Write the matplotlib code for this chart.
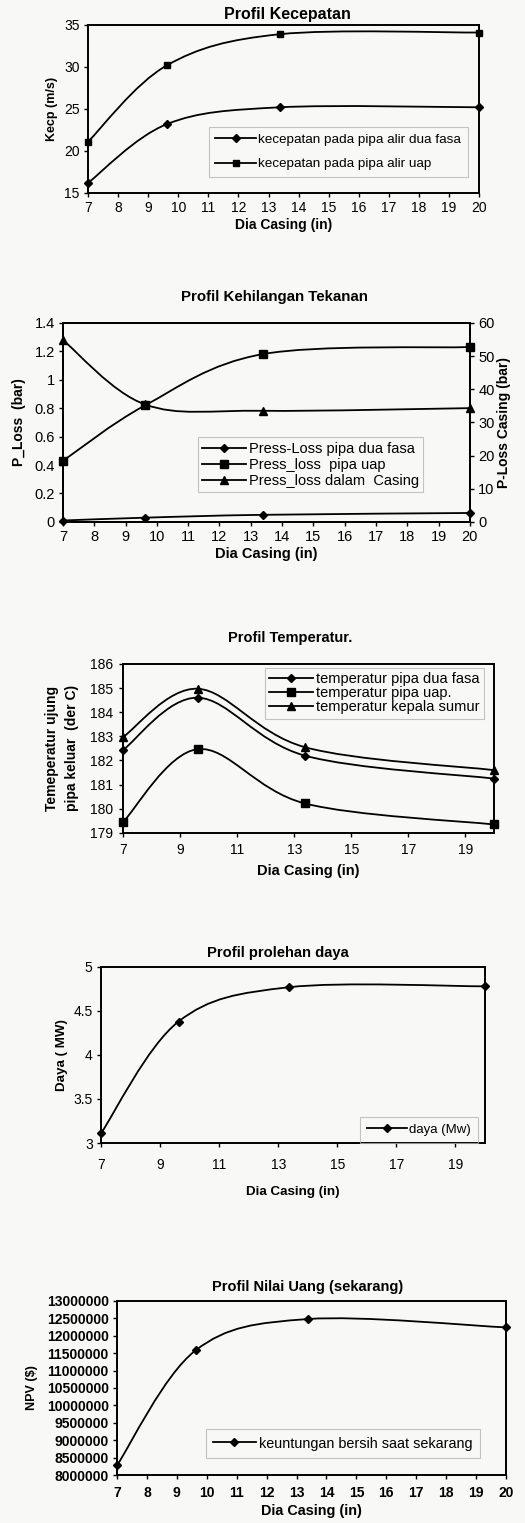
import matplotlib
matplotlib.use("Agg")
import matplotlib.pyplot as plt
import numpy as np
from matplotlib.path import Path
from matplotlib.patches import PathPatch
from matplotlib.lines import Line2D
from matplotlib.ticker import FuncFormatter

plt.rcParams["font.family"] = ["Liberation Sans", "DejaVu Sans"]

# casing diameters (in): 7, 9 5/8, 13 3/8, 20
dia_casing = [7.0, 9.625, 13.375, 20.0]

# Profil Kecepatan (m/s)
kecp_dua_fasa = [16.2, 23.2, 25.2, 25.2]
kecp_uap = [21.1, 30.2, 33.9, 34.1]

# Profil Kehilangan Tekanan
ploss_dua_fasa = [0.01, 0.03, 0.05, 0.063]   # bar, left axis
ploss_uap = [0.43, 0.82, 1.18, 1.23]         # bar, left axis
ploss_casing = [54.8, 35.4, 33.5, 34.3]      # bar, right axis

# Profil Temperatur (der C)
temp_dua_fasa = [182.43, 184.6, 182.2, 181.25]
temp_uap = [179.45, 182.47, 180.22, 179.35]
temp_kepala = [182.97, 184.97, 182.55, 181.6]

# Profil prolehan daya (MW)
daya = [3.11, 4.38, 4.77, 4.78]

# Profil Nilai Uang (sekarang), NPV ($)
npv = [8280000, 11580000, 12480000, 12240000]

LW = 1.3


def smooth_line(ax, x, y, lw=LW):
    """Excel-like smoothed line drawn as cubic Bezier segments."""
    pts = np.column_stack([x, y]).astype(float)
    n = len(pts)
    verts = [tuple(pts[0])]
    codes = [Path.MOVETO]
    for i in range(n - 1):
        p0 = pts[i - 1] if i > 0 else pts[i]
        p1 = pts[i]
        p2 = pts[i + 1]
        p3 = pts[i + 2] if i + 2 < n else pts[i + 1]
        c1 = p1 + (p2 - p0) / 6.0
        c2 = p2 - (p3 - p1) / 6.0
        verts += [tuple(c1), tuple(c2), tuple(p2)]
        codes += [Path.CURVE4] * 3
    ax.add_patch(PathPatch(Path(verts, codes), fill=False, ec="black", lw=lw, zorder=3))


def series(ax, x, y, marker, ms):
    smooth_line(ax, x, y)
    ax.plot(x, y, ls="none", marker=marker, ms=ms, color="black", zorder=4, clip_on=False)


def handle(marker, ms):
    return Line2D([], [], color="black", lw=LW, marker=marker, ms=ms)


def style_axes(ax, fs=10, pad=3):
    for s in ax.spines.values():
        s.set_linewidth(1.4)
        s.set_color("black")
    ax.tick_params(direction="out", length=3, width=1, labelsize=fs, colors="black", pad=pad)
    ax.set_facecolor("none")


def legend(ax, handles, labels, anchor, fs, **kw):
    kw.setdefault("borderpad", 0.5)
    lg = ax.legend(handles, labels, loc="center", bbox_to_anchor=anchor, fontsize=fs,
                   frameon=True, fancybox=False, handlelength=3.0, handletextpad=0.2, **kw)
    lg.get_frame().set_edgecolor("#b5b5b5")
    lg.get_frame().set_linewidth(0.8)
    lg.get_frame().set_facecolor("none")
    return lg


fig = plt.figure(figsize=(5.25, 15.23), dpi=100)
fig.patch.set_facecolor("#f8f8f6")
gfmt = FuncFormatter(lambda v, p: "{:g}".format(v))

# ---- 1. Profil Kecepatan
ax1 = fig.add_axes([0.1676, 0.8733, 0.745, 0.1103])
series(ax1, dia_casing, kecp_dua_fasa, "D", 4)
series(ax1, dia_casing, kecp_uap, "s", 5)
ax1.set_xlim(7, 20)
ax1.set_ylim(15, 35)
ax1.set_xticks(range(7, 21))
ax1.set_yticks(range(15, 36, 5))
style_axes(ax1, 10)
ax1.set_xlabel("Dia Casing (in)", fontsize=10, fontweight="bold", labelpad=2)
ax1.set_ylabel("Kecp (m/s)", fontsize=9, fontweight="bold", labelpad=4)
legend(ax1, [handle("D", 4), handle("s", 5)],
       ["kecepatan pada pipa alir dua fasa", "kecepatan pada pipa alir uap"],
       (0.30, 0.065, 0.68, 0.36), 9.7, labelspacing=0.9)
fig.text(0.548, 1 - 15 / 1523, "Profil Kecepatan", ha="center", va="center",
         fontsize=11.5, fontweight="bold")

# ---- 2. Profil Kehilangan Tekanan
ax2 = fig.add_axes([0.12, 0.6573, 0.775, 0.1307])
ax2r = ax2.twinx()
series(ax2, dia_casing, ploss_dua_fasa, "D", 4)
series(ax2, dia_casing, ploss_uap, "s", 5.5)
series(ax2r, dia_casing, ploss_casing, "^", 6)
ax2.set_xlim(7, 20)
ax2.set_ylim(0, 1.4)
ax2r.set_ylim(0, 60)
ax2.set_xticks(range(7, 21))
ax2.set_yticks(np.arange(0, 1.41, 0.2))
ax2r.set_yticks(range(0, 61, 10))
ax2.yaxis.set_major_formatter(gfmt)
style_axes(ax2, 10.5)
style_axes(ax2r, 10.5)
ax2.set_xlabel("Dia Casing (in)", fontsize=10.5, fontweight="bold", labelpad=2)
ax2.set_ylabel("P_Loss  (bar)", fontsize=10, fontweight="bold", labelpad=6)
ax2r.set_ylabel("P-Loss Casing (bar)", fontsize=10, fontweight="bold", labelpad=2)
legend(ax2, [handle("D", 4), handle("s", 5.5), handle("^", 6)],
       ["Press-Loss pipa dua fasa", "Press_loss  pipa uap", "Press_loss dalam  Casing"],
       (0.246, 0.126, 0.724, 0.321), 10.5, labelspacing=0.15, borderpad=0.3)
fig.text(0.522, 1 - 297 / 1523, "Profil Kehilangan Tekanan", ha="center", va="center",
         fontsize=10.8, fontweight="bold")

# ---- 3. Profil Temperatur
ax3 = fig.add_axes([0.2343, 0.4531, 0.7067, 0.111])
series(ax3, dia_casing, temp_dua_fasa, "D", 4.5)
series(ax3, dia_casing, temp_uap, "s", 6)
series(ax3, dia_casing, temp_kepala, "^", 6)
ax3.set_xlim(7, 20)
ax3.set_ylim(179, 186)
ax3.set_xticks(range(7, 20, 2))
ax3.set_yticks(range(179, 187))
style_axes(ax3, 10, pad=4)
ax3.set_xlabel("Dia Casing (in)", fontsize=10.5, fontweight="bold", labelpad=5)
ax3.set_ylabel("Temeperatur ujung\npipa keluar  (der C)", fontsize=10, fontweight="bold",
               labelpad=8, linespacing=1.5)
legend(ax3, [handle("D", 4.5), handle("s", 6), handle("^", 6)],
       ["temperatur pipa dua fasa", "temperatur pipa uap.", "temperatur kepala sumur"],
       (0.364, 0.675, 0.626, 0.301), 10.5, labelspacing=0.0, borderaxespad=0, borderpad=0.3)
fig.text(0.553, 1 - 638 / 1523, "Profil Temperatur.", ha="center", va="center",
         fontsize=10.5, fontweight="bold")

# ---- 4. Profil prolehan daya
ax4 = fig.add_axes([0.1924, 0.2495, 0.7314, 0.1156])
series(ax4, dia_casing, daya, "D", 4.5)
ax4.set_xlim(7, 20)
ax4.set_ylim(3, 5)
ax4.set_xticks(range(7, 20, 2))
ax4.set_yticks(np.arange(3, 5.01, 0.5))
ax4.yaxis.set_major_formatter(gfmt)
style_axes(ax4, 10)
ax4.tick_params(axis="x", pad=8)
ax4.set_xlabel("Dia Casing (in)", fontsize=9.6, fontweight="bold", labelpad=10)
ax4.set_ylabel("Daya ( MW)", fontsize=9.6, fontweight="bold", labelpad=4)
legend(ax4, [handle("D", 4.5)], ["daya (Mw)"], (0.6875, -0.02, 0.2815, 0.19), 9.5)
fig.text(0.53, 1 - 953 / 1523, "Profil prolehan daya", ha="center", va="center",
         fontsize=10.6, fontweight="bold")

# ---- 5. Profil Nilai Uang (sekarang)
ax5 = fig.add_axes([0.2229, 0.0315, 0.741, 0.1143])
series(ax5, dia_casing, npv, "D", 4.5)
ax5.set_xlim(7, 20)
ax5.set_ylim(8000000, 13000000)
ax5.set_xticks(range(7, 21))
ax5.set_yticks(range(8000000, 13000001, 500000))
ax5.yaxis.set_major_formatter(FuncFormatter(lambda v, p: "{:.0f}".format(v)))
style_axes(ax5, 10)
ax5.tick_params(axis="x", pad=5)
for lab in ax5.get_xticklabels() + ax5.get_yticklabels():
    lab.set_fontweight("bold")
ax5.set_xlabel("Dia Casing (in)", fontsize=10.4, fontweight="bold", labelpad=3)
ax5.set_ylabel("NPV ($)", fontsize=9, fontweight="bold", labelpad=6)
legend(ax5, [handle("D", 4.5)], ["keuntungan bersih saat sekarang"],
       (0.188, 0.069, 0.784, 0.224), 10.4)
fig.text(0.585, 1 - 1287 / 1523, "Profil Nilai Uang (sekarang)", ha="center", va="center",
         fontsize=10.5, fontweight="bold")

fig.savefig("out.png", dpi=100, facecolor=fig.get_facecolor())
